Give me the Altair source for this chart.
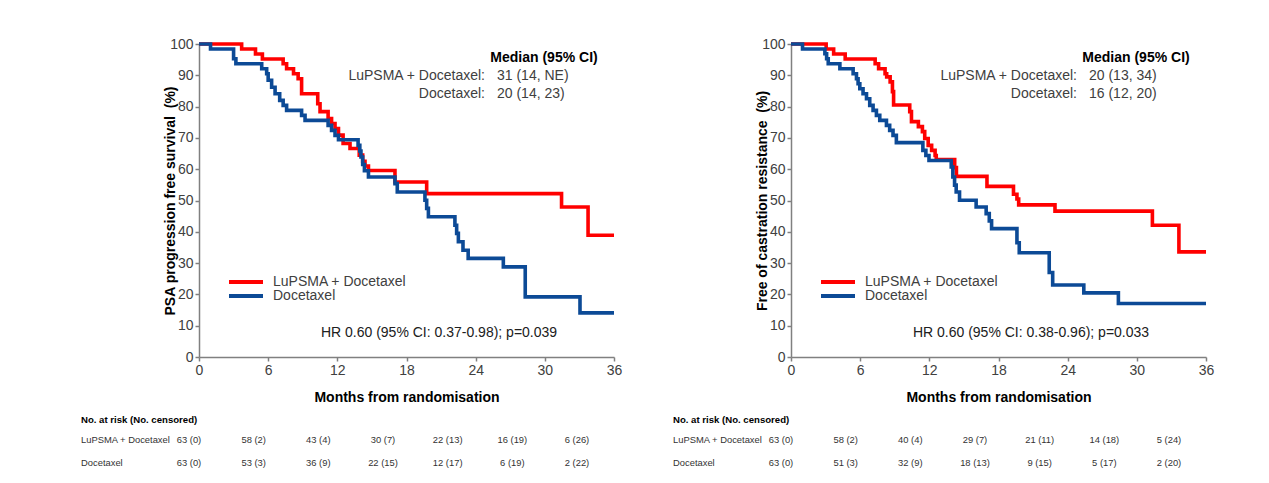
import altair as alt
import pandas as pd

FONT = "Liberation Sans"
months = [0, 6, 12, 18, 24, 30, 36]
arms = ["LuPSMA + Docetaxel", "Docetaxel"]
colors = ["#FF0000", "#0C4A96"]

# ---- Left panel: PSA progression free survival ----
psa_lu_t = [0, 3.7, 4.9, 5.5, 7.3, 7.6, 8.2, 8.6, 8.9, 10.3, 10.5, 11.2, 11.5, 11.8, 12.1, 12.5, 13.1,
            13.9, 14.2, 14.4, 14.7, 17.0, 19.75, 31.45, 33.75, 36]
psa_lu_s = [100, 98.4, 96.8, 95.2, 93.7, 92.1, 90.5, 88.9, 84.1, 80.9, 78.4, 76.2, 74.6, 73.0, 70.9, 68.2, 66.6,
            64.5, 62.5, 61.0, 59.6, 55.9, 52.2, 47.9, 38.9, 38.9]
psa_dc_t = [0, 1.0, 3.0, 3.2, 5.44, 5.87, 6.0, 6.3, 6.6, 7.0, 7.3, 7.6, 8.9, 9.2, 11.2, 11.5, 11.8, 12.1,
            13.8, 13.95, 14.05, 14.2, 14.35, 14.7, 17.0, 17.2, 19.6, 19.75, 19.9, 22.2, 22.35, 22.5, 22.9,
            23.35, 26.4, 28.3, 33.05, 36]
psa_dc_s = [100, 98.4, 95.3, 93.7, 92.1, 90.5, 88.4, 86.2, 84.1, 82.0, 80.4, 78.8, 77.2, 75.6, 74.0, 72.4, 70.8,
            69.4, 67.6, 65.8, 63.9, 61.5, 59.5, 57.5, 55.4, 52.7, 50.1, 47.5, 44.8, 42.1, 39.5, 36.8, 34.1,
            31.5, 28.8, 19.2, 14.1, 14.1]
psa_ytitle = "PSA progression free survival \u00a0(%)"
psa_medians = ["31 (14, NE)", "20 (14, 23)"]
psa_hr = "HR 0.60 (95% CI: 0.37-0.98); p=0.039"
psa_risk_lu = ["63 (0)", "58 (2)", "43 (4)", "30 (7)", "22 (13)", "16 (19)", "6 (26)"]
psa_risk_dc = ["63 (0)", "53 (3)", "36 (9)", "22 (15)", "12 (17)", "6 (19)", "2 (22)"]

# ---- Right panel: Free of castration resistance ----
cr_lu_t = [0, 3.05, 3.7, 4.7, 7.3, 7.6, 8.16, 8.3, 8.6, 8.8, 8.9, 10.3, 10.45, 11.05, 11.4, 11.6, 11.9,
           12.2, 12.5, 12.6, 14.2, 14.35, 17.0, 19.3, 19.6, 19.75, 22.9, 31.35, 33.65, 36]
cr_lu_s = [100, 98.4, 96.8, 95.2, 93.7, 92.1, 90.5, 89.5, 87.9, 84.8, 80.5, 78.4, 75.2, 73.6, 72.0, 69.8, 67.6,
           66.0, 64.4, 63.1, 60.5, 57.7, 54.5, 52.0, 50.5, 48.6, 46.6, 42.1, 33.6, 33.6]
cr_dc_t = [0, 1.0, 2.94, 3.09, 3.23, 4.24, 5.39, 5.68, 5.82, 5.97, 6.25, 6.55, 6.83, 7.12, 7.41, 7.7, 8.28,
           8.56, 8.85, 9.14, 11.44, 11.7, 11.97, 13.9, 14.04, 14.19, 14.33, 14.62, 16.06, 16.93, 17.2, 17.4,
           19.6, 19.8, 22.4, 22.7, 25.4, 28.4, 36]
cr_dc_s = [100, 98.4, 96.9, 95.3, 93.7, 92.1, 90.5, 88.9, 87.3, 85.7, 84.1, 82.5, 80.4, 78.8, 77.2, 75.6, 74.0,
           72.4, 70.8, 68.5, 66.0, 64.4, 62.8, 60.7, 57.5, 54.9, 52.7, 50.1, 47.9, 45.8, 43.5, 41.0,
           36.5, 33.3, 27.0, 23.0, 20.5, 17.1, 17.1]
cr_ytitle = "Free of castration resistance \u00a0(%)"
cr_medians = ["20 (13, 34)", "16 (12, 20)"]
cr_hr = "HR 0.60 (95% CI: 0.38-0.96); p=0.033"
cr_risk_lu = ["63 (0)", "58 (2)", "40 (4)", "29 (7)", "21 (11)", "14 (18)", "5 (24)"]
cr_risk_dc = ["63 (0)", "51 (3)", "32 (9)", "18 (13)", "9 (15)", "5 (17)", "2 (20)"]

median_header = "Median (95% CI)"
risk_header = "No. at risk (No. censored)"
x_title = "Months from randomisation"

W, H = 415, 313


def text_layer(txt, x, y, **style):
    return alt.Chart(pd.DataFrame({"txt": [txt]})).mark_text(font=FONT, **style).encode(
        text="txt:N", x=alt.value(x), y=alt.value(y))


def panel(lu_t, lu_s, dc_t, dc_s, ytitle, medians, hr, risk_lu, risk_dc):
    curves = pd.DataFrame({
        "t": lu_t + dc_t,
        "s": lu_s + dc_s,
        "arm": [arms[0]] * len(lu_t) + [arms[1]] * len(dc_t),
    })
    lines = alt.Chart(curves).mark_line(interpolate="step-after", strokeWidth=3.6).encode(
        x=alt.X("t:Q", scale=alt.Scale(domain=[0, 36], nice=False, zero=False),
                axis=alt.Axis(values=months, format="d", title=x_title, grid=False,
                              labelFontSize=14, labelColor="#404040", labelFont=FONT, labelFlush=False,
                              labelPadding=2, tickSize=4, tickColor="#808080", domainColor="#808080",
                              domainWidth=1.5, tickWidth=1.5,
                              titleFontSize=14, titleFont=FONT, titleFontWeight="bold", titleColor="#000",
                              titlePadding=13)),
        y=alt.Y("s:Q", scale=alt.Scale(domain=[0, 100], nice=False),
                axis=alt.Axis(values=list(range(0, 101, 10)), title=ytitle, grid=False,
                              labelFontSize=14, labelColor="#404040", labelFont=FONT,
                              labelPadding=2, tickSize=4, tickColor="#808080", domainColor="#808080",
                              domainWidth=1.5, tickWidth=1.5,
                              titleFontSize=14, titleFont=FONT, titleFontWeight="bold", titleColor="#000",
                              titleX=-29, titleY=H / 2, titleAlign="center", titleBaseline="middle",
                              titleAngle=270)),
        color=alt.Color("arm:N", scale=alt.Scale(domain=arms, range=colors),
                        legend=alt.Legend(title=None, orient="none", legendX=28, legendY=231,
                                          symbolType="stroke", symbolSize=1156, symbolStrokeWidth=4,
                                          labelFontSize=14, labelFont=FONT, labelColor="#404040",
                                          labelOffset=8, rowPadding=0, clipHeight=14, padding=0)),
    )

    texts = [
        text_layer(median_header, 345, 13.5, fontSize=14, fontWeight="bold", color="#000",
                   align="center", baseline="middle"),
        text_layer(arms[0] + ":", 286, 31.5, fontSize=14, color="#404040", align="right", baseline="middle"),
        text_layer(arms[1] + ":", 286, 49.5, fontSize=14, color="#404040", align="right", baseline="middle"),
        text_layer(medians[0], 298, 31.5, fontSize=14, color="#404040", align="left", baseline="middle"),
        text_layer(medians[1], 298, 49.5, fontSize=14, color="#404040", align="left", baseline="middle"),
        text_layer(hr, 240, 288.5, fontSize=14, color="#202020", align="center", baseline="middle"),
        text_layer(risk_header, -118, 375.5, fontSize=9.6, fontWeight="bold", color="#000",
                   align="left", baseline="middle"),
    ]

    row_scale = alt.Scale(domain=arms, range=[395.5, 418.5], padding=0)
    risk_df = pd.DataFrame({
        "month": months * 2,
        "label": risk_lu + risk_dc,
        "row": [arms[0]] * len(months) + [arms[1]] * len(months),
    })
    risk = alt.Chart(risk_df).mark_text(font=FONT, fontSize=9.4, color="#333", baseline="middle").encode(
        x=alt.X("month:Q", scale=alt.Scale(domain=[0, 36], range=[-10, 378]), axis=None),
        y=alt.Y("row:N", scale=row_scale, axis=None),
        text="label:N",
    )
    row_labels = alt.Chart(pd.DataFrame({"row": arms})).mark_text(
        font=FONT, fontSize=9.4, color="#333", align="left", baseline="middle").encode(
        x=alt.value(-118),
        y=alt.Y("row:N", scale=row_scale, axis=None),
        text="row:N",
    )

    return alt.layer(lines, *texts, risk, row_labels).resolve_scale(
        x="independent", y="independent").properties(width=W, height=H)


left = panel(psa_lu_t, psa_lu_s, psa_dc_t, psa_dc_s, psa_ytitle, psa_medians, psa_hr, psa_risk_lu, psa_risk_dc)
right = panel(cr_lu_t, cr_lu_s, cr_dc_t, cr_dc_s, cr_ytitle, cr_medians, cr_hr, cr_risk_lu, cr_risk_dc)

chart = alt.hconcat(left, right, spacing=51).resolve_scale(color="independent").resolve_legend(
    color="independent").properties(
    padding={"left": 81, "top": 36, "right": 5, "bottom": 5},
    background="white",
).configure_view(stroke=None)

chart.save("out.html", embed_options={"renderer": "svg", "actions": False})
